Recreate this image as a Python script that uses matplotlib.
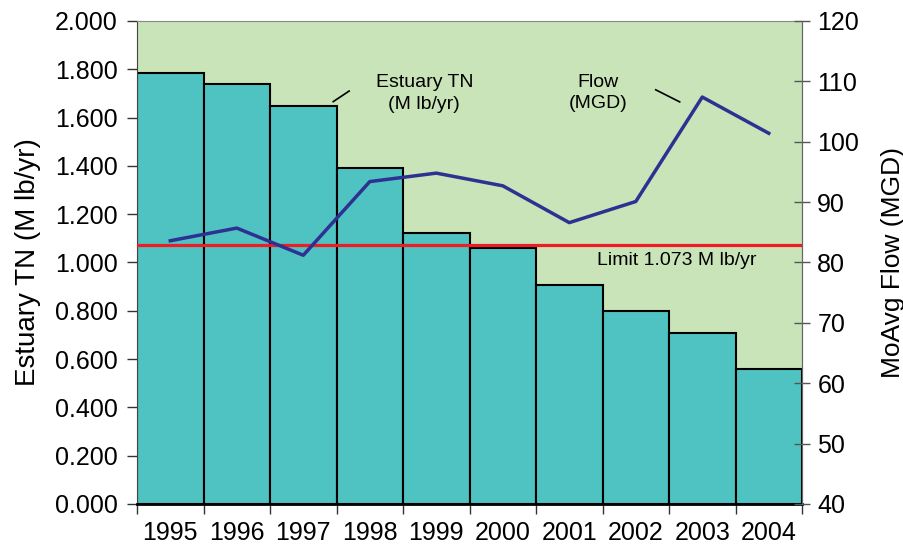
import matplotlib
matplotlib.use("Agg")
import matplotlib.pyplot as plt
import numpy as np

plt.rcParams['font.family'] = ['Liberation Sans', 'DejaVu Sans']

# data
years = ['1995', '1996', '1997', '1998', '1999',
         '2000', '2001', '2002', '2003', '2004']
estuary_tn = [1.784, 1.739, 1.648, 1.391, 1.121,
              1.059, 0.905, 0.799, 0.709, 0.559]   # M lb/yr
flow_mgd = [83.6, 85.7, 81.2, 93.4, 94.8,
            92.7, 86.6, 90.1, 107.4, 101.4]       # MoAvg MGD
tn_limit = 1.073

# colours
bg_green = '#c9e4b8'
bar_teal = '#4fc3c1'
flow_blue = '#2e3192'
limit_red = '#ee1c25'

fig = plt.figure(figsize=(9.04, 5.55), dpi=100)
ax = fig.add_axes([0.1516, 0.0919, 0.7356, 0.8703])
ax.set_facecolor(bg_green)

x_centers = np.arange(len(years)) + 0.5
ax.bar(x_centers, estuary_tn, width=1.0, color=bar_teal,
       edgecolor='black', linewidth=1.5, zorder=2)
ax.axhline(tn_limit, color=limit_red, linewidth=2.3, zorder=3)

ax.set_xlim(0, len(years))
ax.set_ylim(0, 2.0)
ax.set_yticks(np.arange(0, 2.01, 0.2))
ax.set_yticklabels(['%.3f' % v for v in np.arange(0, 2.01, 0.2)])
ax.set_xticks(np.arange(0, len(years) + 1))
ax.set_xticklabels([])
ax.set_xticks(x_centers, minor=True)
ax.set_xticklabels(years, minor=True)
ax.tick_params(axis='x', which='major', length=7, width=1, color='#333333')
ax.tick_params(axis='x', which='minor', length=0, pad=12, labelsize=18)
ax.tick_params(axis='y', length=7, width=1, color='#333333', pad=7,
               labelsize=18)
ax.set_ylabel('Estuary TN (M lb/yr)', fontsize=20, labelpad=10)

ax.spines['left'].set_color('#444444')
ax.spines['bottom'].set_color('black')
ax.spines['bottom'].set_linewidth(2)
ax.spines['top'].set_color('#888888')
ax.spines['right'].set_color('#666666')

# flow on the right axis
ax2 = ax.twinx()
ax2.plot(x_centers, flow_mgd, color=flow_blue, linewidth=2.5, zorder=4)
ax2.set_ylim(40, 120)
ax2.set_yticks(np.arange(40, 121, 10))
ax2.tick_params(axis='y', direction='inout', length=12, width=1,
                color='#555555', pad=5, labelsize=18)
ax2.set_ylabel('MoAvg Flow (MGD)', fontsize=19, labelpad=16)
for side in ['top', 'bottom', 'left']:
    ax2.spines[side].set_visible(False)
ax2.spines['right'].set_color('#666666')

# annotations
ax.text(4.32, 1.70, 'Estuary TN\n(M lb/yr)', ha='center', va='center',
        fontsize=14, linespacing=1.35)
ax.plot([2.95, 3.19], [1.666, 1.710], color='black', linewidth=1.2)
ax2.text(6.93, 108.1, 'Flow\n(MGD)', ha='center', va='center',
         fontsize=14, linespacing=1.35)
ax2.plot([7.80, 8.16], [108.6, 106.6], color='black', linewidth=1.2)
ax.text(8.12, 1.010, 'Limit 1.073 M lb/yr', ha='center',
        va='center', fontsize=14)

fig.savefig('out.png', dpi=100)
